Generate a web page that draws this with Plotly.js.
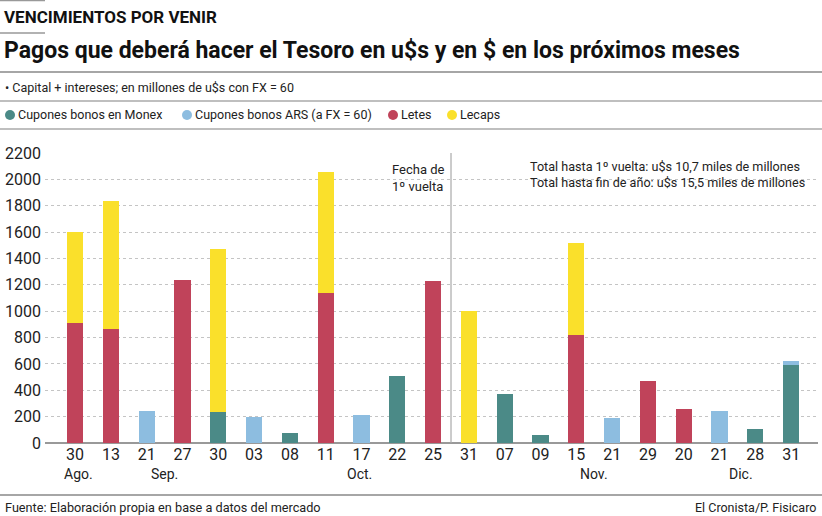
<!DOCTYPE html>
<html>
<head>
<meta charset="utf-8">
<script src="https://cdn.plot.ly/plotly-3.0.1.min.js"></script>
<style>
html,body{margin:0;padding:0;background:#fff;}
#chart{width:822px;height:516px;}
</style>
</head>
<body>
<div id="chart"></div>
<script>
// ---- data ----
const dayLabels = ['30','13','21','27','30','03','08','11','17','22','25','31','07','09','15','21','29','20','21','28','31'];
const monex  = [0,0,0,0,238,0,76,0,0,506,0,0,374,58,0,0,0,0,0,104,594];
const ars    = [0,0,243,0,0,197,0,0,215,0,0,0,0,0,0,190,0,0,243,0,26];
const letes  = [910,865,0,1234,0,0,0,1135,0,0,1226,0,0,0,817,0,470,255,0,0,0];
const lecaps = [690,968,0,0,1231,0,0,921,0,0,0,999,0,0,698,0,0,0,0,0,0];
const seriesNames = ['Cupones bonos en Monex','Cupones bonos ARS (a FX = 60)','Letes','Lecaps'];
const monthLabels = ['Ago.','Sep.','Oct.','Nov.','Dic.'];
const monthAt = [0.1, 2.5, 7.95, 14.5, 18.6];
const yTicks = [0,200,400,600,800,1000,1200,1400,1600,1800,2000,2200];
const firstRoundAfter = 10; // index of last date before 1º vuelta

// ---- styles ----
const colors = ['#4b8a87','#8dbde0','#c0435a','#fae02b'];
const W = 822, H = 516;
const M = {l:45, r:4, t:153, b:73};
const pw = W - M.l - M.r, ph = H - M.t - M.b;
const px = x => (x - M.l) / pw;
const py = y => (H - M.b - y) / ph;
const NARROW = 'Roboto, Lato, sans-serif';

const xs = dayLabels.map((_, i) => i);
const allSeries = [monex, ars, letes, lecaps];
const traces = allSeries.map((vals, k) => ({
  type: 'bar', x: xs, y: vals, name: seriesNames[k],
  marker: {color: colors[k], line: {width: 0}},
  width: 0.45, showlegend: false, hoverinfo: 'skip'
}));

const shapes = [];
const annotations = [];

function hline(y, x0, x1, color, w) {
  shapes.push({type:'line', xref:'paper', yref:'paper', x0:px(x0), x1:px(x1), y0:py(y), y1:py(y),
    line:{color:color, width:w}});
}
function text(t, x, y, opts) {
  annotations.push(Object.assign({text:t, xref:'paper', yref:'paper', x:px(x), y:py(y),
    xanchor:'left', yanchor:'middle', showarrow:false,
    font:{family:NARROW, size:12, color:'#222'}}, opts || {}));
}

// header
hline(0.5, 0, 45, '#999', 1.5);
text('<b>VENCIMIENTOS POR VENIR</b>', 2, 17, {font:{family:NARROW, size:17, color:'#111'}});
hline(33, 0, 45, '#999', 1.5);
text('<b>Pagos que deberá hacer el Tesoro en u$s y en $ en los próximos meses</b>', 2, 50,
  {font:{family:NARROW, size:23, color:'#111'}});
hline(72, 0, 822, '#888', 1.5);
text('• Capital + intereses; en millones de u$s con FX = 60', 3, 87, {font:{family:NARROW, size:12.5, color:'#222'}});
hline(101, 0, 822, '#aaa', 1.5);

// legend
const legX = [10, 187, 393, 452];
seriesNames.forEach((n, k) => {
  shapes.push({type:'circle', xref:'paper', yref:'paper', xsizemode:'pixel', ysizemode:'pixel',
    xanchor:px(legX[k]), yanchor:py(115), x0:-5, x1:5, y0:-5, y1:5,
    fillcolor:colors[k], line:{width:0}});
  text(n, legX[k] + 6, 115, {font:{family:NARROW, size:12.5, color:'#222'}});
});
hline(129, 0, 822, '#aaa', 1.5);

// first round marker
shapes.push({type:'line', xref:'x', yref:'y', x0:firstRoundAfter + 0.5, x1:firstRoundAfter + 0.5,
  y0:0, y1:2200, line:{color:'#aaa', width:1.2}});
annotations.push({text:'Fecha de<br>1º vuelta', xref:'x', yref:'paper', x:firstRoundAfter + 0.38, y:py(178),
  xanchor:'right', yanchor:'middle', align:'left', showarrow:false,
  font:{family:NARROW, size:13, color:'#222'}});
text('Total hasta 1º vuelta: u$s 10,7 miles de millones<br>Total hasta fin de año: u$s 15,5 miles de millones',
  528, 174, {align:'left', font:{family:NARROW, size:12.6, color:'#222'}});

// months
monthLabels.forEach((m, k) => {
  annotations.push({text:m, xref:'x', yref:'paper', x:monthAt[k], y:py(474), xanchor:'center', yanchor:'middle',
    showarrow:false, font:{family:NARROW, size:14, color:'#222'}});
});

// footer
hline(495, 0, 822, '#888', 1.5);
text('Fuente: Elaboración propia en base a datos del mercado', 3, 507, {font:{family:NARROW, size:12.7, color:'#222'}});
text('El Cronista/P. Fisicaro', 818, 507, {xanchor:'right', font:{family:NARROW, size:12.5, color:'#222'}});

const layout = {
  width: W, height: H,
  margin: M,
  paper_bgcolor: '#fff', plot_bgcolor: '#fff',
  barmode: 'stack',
  showlegend: false,
  xaxis: {
    range: [-0.84, 20.75], tickmode: 'array', tickvals: xs, ticktext: dayLabels,
    showgrid: false, zeroline: false, showline: false, ticks: '',
    tickfont: {family: NARROW, size: 16, color: '#222'}, fixedrange: true
  },
  yaxis: {
    range: [0, 2200], tickmode: 'array', tickvals: yTicks,
    showgrid: true, gridcolor: '#c4c4c4', griddash: 'dot', gridwidth: 1,
    zeroline: true, zerolinecolor: '#999', zerolinewidth: 1.5,
    showline: false, ticks: '', ticklabelstandoff: 3,
    tickfont: {family: NARROW, size: 16, color: '#222'}, fixedrange: true
  },
  shapes: shapes,
  annotations: annotations,
  font: {family: NARROW}
};

Plotly.newPlot('chart', traces, layout, {displayModeBar: false, staticPlot: true});
</script>
</body>
</html>
